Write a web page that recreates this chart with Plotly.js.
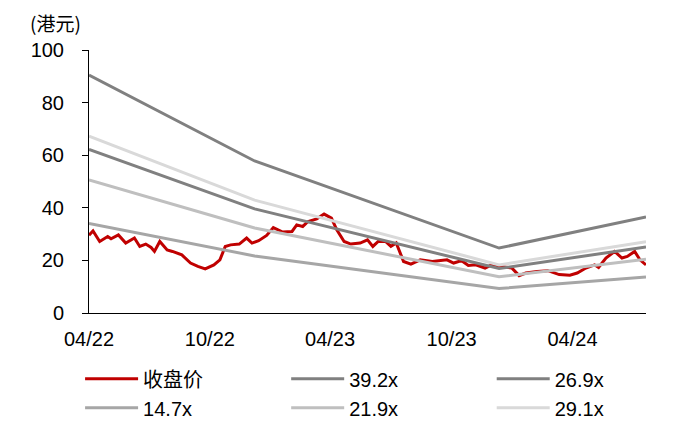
<!DOCTYPE html>
<html>
<head>
<meta charset="utf-8">
<script src="https://cdn.plot.ly/plotly-3.0.1.min.js"></script>
<style>html,body{margin:0;padding:0;background:#fff;}#chart{width:695px;height:421px;}</style>
</head>
<body>
<div id="chart"></div>
<script>
// Closing price (HKD)
const priceDates = ["2022-04-27","2022-05-03","2022-05-13","2022-05-25","2022-05-30","2022-06-10","2022-06-21","2022-07-04","2022-07-12","2022-07-21","2022-07-29","2022-08-03","2022-08-11","2022-08-22","2022-08-30","2022-09-13","2022-09-26","2022-10-07","2022-10-18","2022-10-31","2022-11-09","2022-11-17","2022-11-25","2022-12-08","2022-12-19","2022-12-27","2023-01-06","2023-01-18","2023-01-28","2023-02-11","2023-02-25","2023-03-04","2023-03-13","2023-03-21","2023-04-03","2023-04-14","2023-04-25","2023-05-03","2023-05-14","2023-05-24","2023-06-07","2023-06-18","2023-06-26","2023-07-04","2023-07-15","2023-07-23","2023-07-31","2023-08-11","2023-08-22","2023-09-05","2023-09-23","2023-10-15","2023-10-25","2023-11-06","2023-11-16","2023-11-27","2023-12-11","2023-12-21","2024-01-04","2024-01-20","2024-01-31","2024-02-10","2024-02-27","2024-03-14","2024-03-31","2024-04-16","2024-04-27","2024-05-10","2024-05-23","2024-05-29","2024-06-09","2024-06-22","2024-07-03","2024-07-11","2024-07-22","2024-07-30","2024-08-08"];
const priceValues = [29.6,31.2,27.2,29.1,28.2,29.7,26.6,28.5,25.3,26.2,24.9,23.4,27.2,24.0,23.4,22.1,19.0,17.7,16.8,18.3,20.2,25.3,25.9,26.2,28.5,26.6,27.5,29.5,32.5,30.8,31.0,33.5,32.9,34.8,35.8,37.6,36.1,31.6,27.2,26.2,26.6,27.8,25.3,27.2,27.2,25.3,26.6,19.6,18.6,20.2,19.6,20.2,19.0,19.9,18.1,18.3,17.1,18.3,17.7,17.1,14.2,15.2,15.8,16.1,14.6,14.4,15.2,17.1,18.3,17.3,20.9,23.4,20.9,21.5,23.4,20.2,18.3];

// PE band lines
const bandDates = ["2022-04-27","2022-12-31","2024-01-01","2024-08-08"];
const band392 = [90.5,57.8,24.7,36.5];
const band269 = [62.2,39.6,16.9,25.1];
const band147 = [34.0,21.7,9.3,13.7];
const band219 = [50.6,32.3,13.8,20.4];
const band291 = [67.2,42.9,18.3,27.1];

const tickDates = ["2022-04-27","2022-10-25","2023-04-23","2023-10-22","2024-04-20"];
const tickLabels = ["04/22","10/22","04/23","10/23","04/24"];

const lw = 3;
const traces = [
  {x: priceDates, y: priceValues, name: "收盘价", mode: "lines", line: {color: "#C00000", width: lw}, legend: "legend"},
  {x: bandDates, y: band392, name: "39.2x", mode: "lines", line: {color: "#808080", width: lw}, legend: "legend2"},
  {x: bandDates, y: band269, name: "26.9x", mode: "lines", line: {color: "#808080", width: lw}, legend: "legend3"},
  {x: bandDates, y: band147, name: "14.7x", mode: "lines", line: {color: "#A6A6A6", width: lw}, legend: "legend"},
  {x: bandDates, y: band219, name: "21.9x", mode: "lines", line: {color: "#BFBFBF", width: lw}, legend: "legend2"},
  {x: bandDates, y: band291, name: "29.1x", mode: "lines", line: {color: "#D9D9D9", width: lw}, legend: "legend3"}
];

function legendAt(xp) {
  return {
    orientation: "v", x: xp, xanchor: "left", y: -0.176, yanchor: "top",
    itemwidth: 53, tracegroupgap: 0, bgcolor: "rgba(0,0,0,0)", traceorder: "normal",
    font: {family: "Liberation Sans, Noto Sans CJK SC, sans-serif", size: 20, color: "#000"}
  };
}

const layout = {
  width: 695, height: 421,
  margin: {l: 89, r: 49, t: 50, b: 108, autoexpand: false},
  paper_bgcolor: "#fff", plot_bgcolor: "#fff",
  font: {family: "Liberation Sans, Arial, sans-serif", size: 20, color: "#000"},
  showlegend: true,
  legend: legendAt(-0.016),
  legend2: legendAt(0.354),
  legend3: legendAt(0.723),
  xaxis: {
    type: "date",
    range: ["2022-04-27", "2024-08-08"],
    tickmode: "array", tickvals: tickDates, ticktext: tickLabels,
    showline: true, linecolor: "#000", linewidth: 1,
    ticks: "", showgrid: false, zeroline: false,
    ticklabelstandoff: 8,
    tickfont: {size: 20}
  },
  yaxis: {
    range: [0, 100], tickvals: [0,20,40,60,80,100],
    showline: true, linecolor: "#000", linewidth: 1,
    ticks: "outside", ticklen: 6, tickcolor: "#000",
    showgrid: false, zeroline: false,
    ticklabelstandoff: 14,
    tickfont: {size: 20}
  },
  annotations: [{
    text: "(港元)", xref: "paper", yref: "paper",
    x: -0.11, y: 1.103, xanchor: "left", yanchor: "middle",
    showarrow: false,
    font: {family: "Noto Sans CJK SC, sans-serif", size: 19, color: "#000"}
  }]
};

Plotly.newPlot("chart", traces, layout, {displayModeBar: false, staticPlot: true});
</script>
</body>
</html>
